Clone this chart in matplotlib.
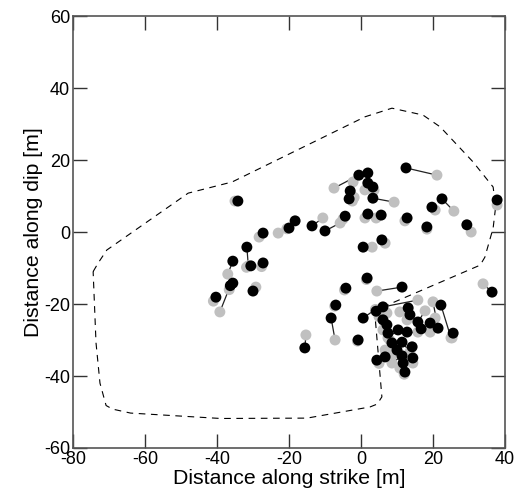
import numpy as np
import matplotlib
matplotlib.use("Agg")
import matplotlib.pyplot as plt

plt.rcParams['font.family'] = ['Liberation Sans', 'DejaVu Sans']
plt.rcParams['axes.unicode_minus'] = False

# black = relocated position, gray = initial position
black_x = [-34.2, -27.2, -20.0, -18.3, -13.6, -10.0, -4.4, -31.7, -30.6, -27.2,
           -35.6, -35.6, -36.3, -40.3, -30.0,
           12.5, -0.6, 1.9, 1.9, 3.3, -3.0, -3.3, 3.3, 1.9, 5.6,
           12.8, 18.3, 19.7, 22.5, 29.4, 37.8, 5.8, 0.6,
           36.4,
           -4.2, -7.0, -8.3, -15.6, -0.8, 1.7, 11.4, 0.6,
           6.1, 4.2, 6.1, 7.2, 13.1, 13.6, 10.3, 12.8, 15.8, 16.7,
           19.2, 21.4, 22.2, 25.6, 7.5, 11.4, 14.2, 6.7, 4.4, 11.4,
           11.7, 14.4, 12.2, 8.6, 10.0]
black_y = [8.6, -0.3, 1.1, 3.1, 1.7, 0.3, 4.4, -4.2, -9.4, -8.6,
           -8.1, -14.2, -14.9, -18.1, -16.4,
           17.8, 15.8, 16.4, 13.6, 12.5, 11.4, 9.2, 9.4, 5.0, 4.7,
           3.9, 1.4, 6.9, 9.2, 2.0, 8.9, -2.2, -4.2,
           -16.7,
           -15.6, -20.3, -23.9, -32.2, -30.0, -12.8, -15.3, -23.9,
           -20.8, -22.0, -24.4, -25.8, -21.1, -23.0, -27.2, -27.8, -25.0, -26.9,
           -25.3, -26.7, -20.3, -28.1, -28.1, -30.6, -31.9, -34.7, -35.6, -34.4,
           -36.4, -35.0, -38.9, -30.8, -32.8]
gray_x = [-35.0, -28.3, -23.0, -20.6, -10.6, -5.8, -5.0, -31.3, -31.8, -27.6,
          -37.0, -36.6, -39.2, -41.0, -29.2,
          21.1, -7.5, -2.2, 1.1, 3.6, -1.9, -2.4, 9.2, 1.1, 4.2,
          12.2, 18.3, 20.6, 25.8, 30.6, 37.8, 6.7, 3.1,
          33.9,
          -4.6, -7.3, -7.2, -15.3, -1.0, 1.5, 4.4, 4.0,
          15.8, 5.0, 7.2, 6.1, 10.8, 12.8, 7.5, 15.8, 17.8, 19.2,
          20.6, 20.0, 25.0, 25.3, 8.0, 13.6, 14.4, 6.7, 5.0, 8.6,
          10.8, 14.0, 12.0, 8.6, 9.0]
gray_y = [8.6, -1.4, -0.3, 0.9, 3.9, 2.5, 3.6, -9.4, -9.8, -9.6,
          -11.7, -16.0, -22.2, -19.2, -15.3,
          15.8, 12.2, 13.9, 11.7, 11.6, 9.6, 8.6, 8.3, 3.9, 3.9,
          3.1, 0.8, 6.1, 5.8, 0.0, 7.5, -3.1, -4.2,
          -14.4,
          -16.1, -20.6, -30.0, -28.6, -30.3, -13.2, -16.4, -21.5,
          -18.9, -23.5, -22.5, -27.2, -22.2, -24.4, -29.4, -27.8, -21.9, -27.8,
          -23.9, -19.4, -29.4, -29.4, -30.0, -33.3, -36.4, -32.8, -36.5, -36.4,
          -37.8, -36.0, -39.5, -32.2, -34.0]

# outline of the dashed region
outline_x = [-74.4, -73.0, -70.6, -48.0, -35.8, 1.1, 8.6, 17.2, 22.0, 31.1,
             36.7, 37.4, 36.7, 34.4, 33.1, 4.5, 4.0, 5.8, 4.5, 2.5,
             -15.0, -39.0, -64.0, -69.0, -70.8, -72.5, -73.6, -74.4]
outline_y = [-11.0, -8.6, -5.0, 10.8, 13.9, 32.0, 34.4, 32.5, 29.2, 19.5,
             12.5, 7.0, 1.1, -7.0, -9.2, -21.5, -24.5, -45.8, -47.8, -48.6,
             -51.7, -51.8, -50.3, -49.2, -48.2, -42.0, -30.8, -11.0]

fig = plt.figure(figsize=(5.15, 5.01), dpi=100)
ax = fig.add_axes([0.1417, 0.1058, 0.8389, 0.8622])

ax.plot(outline_x, outline_y, color='black', lw=0.8, dashes=(6, 5))

for bx, by, gx, gy in zip(black_x, black_y, gray_x, gray_y):
    ax.plot([bx, gx], [by, gy], color='#222222', lw=0.9, zorder=2)

ax.scatter(gray_x, gray_y, s=62, color='#c0c0c0', edgecolors='none', zorder=3)
ax.scatter(black_x, black_y, s=62, color='black', edgecolors='none', zorder=4)

ax.set_xlim(-80, 40)
ax.set_ylim(-60, 60)
ax.set_xticks(np.arange(-80, 41, 20))
ax.set_yticks(np.arange(-60, 61, 20))
ax.tick_params(direction='in', length=10, width=1, top=True, right=True,
               labelsize=13, pad=2, color='#333333')
for sp in ax.spines.values():
    sp.set_color('#555555')
    sp.set_linewidth(1.2)

ax.set_xlabel('Distance along strike [m]', fontsize=15.3, labelpad=1)
ax.set_ylabel('Distance along dip [m]', fontsize=15.3, labelpad=1)

fig.savefig('out.png', dpi=100)
